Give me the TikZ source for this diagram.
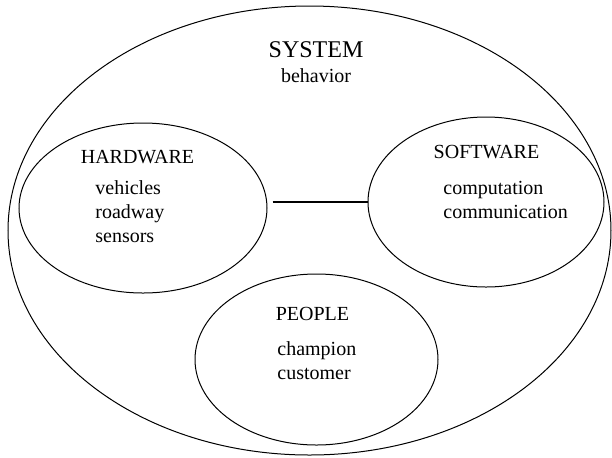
\documentclass[tikz,border=0pt]{standalone}
\usepackage{fontspec}
\setmainfont{Liberation Serif}
\usetikzlibrary{shapes.geometric}
\tikzset{
  blob/.style={draw,ellipse,inner sep=0pt,line width=0.5pt},
  title/.style={font=\fontsize{10}{12}\selectfont,anchor=base},
  item/.style={font=\fontsize{10}{12}\selectfont,anchor=base west,inner sep=0pt},
  link/.style={line width=1pt,shorten <=2.5pt}
}
\begin{document}
\begin{tikzpicture}[x=0.5pt,y=-0.5pt]
    \useasboundingbox (0,0) rectangle (612,457);
    \node[blob,minimum width=301.5pt,minimum height=224.5pt] (sys) at (309.5,230.5) {};
    \node[blob,minimum width=124pt,minimum height=85pt] (hw) at (143,208) {};
    \node[blob,minimum width=118pt,minimum height=85pt] (sw) at (486,202) {};
    \node[blob,minimum width=121.5pt,minimum height=85.5pt] (ppl) at (316.5,359.5) {};

    \node[title,font=\fontsize{12}{14}\selectfont] (systitle) at (316,57) {SYSTEM};
    \node[title] (sysbeh) at (316,82) {behavior};

    \node[title] (hwtitle) at (137.5,163) {HARDWARE};
    \foreach \t [count=\i] in {vehicles,roadway,sensors}
      \node[item] (hw\i) at (95,170+24*\i) {\t};

    \node[title] (swtitle) at (486.5,158) {SOFTWARE};
    \foreach \t [count=\i] in {computation,communication}
      \node[item] (sw\i) at (443,170+24*\i) {\t};

    \node[title] (ppltitle) at (312.5,320) {PEOPLE};
    \foreach \t [count=\i] in {champion,customer}
      \node[item] (ppl\i) at (277,331+24*\i) {\t};

    \draw[link] (hw.east |- sw.west) -- (sw.west);
  \end{tikzpicture}
\end{document}
